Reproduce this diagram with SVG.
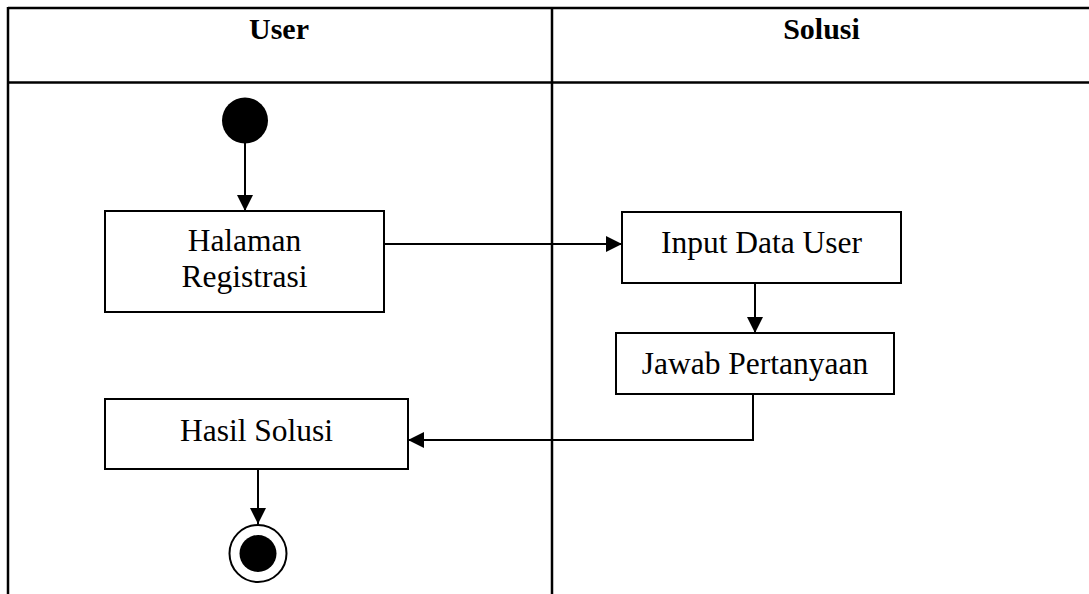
<svg xmlns="http://www.w3.org/2000/svg" width="1089" height="594" viewBox="0 0 1089 594">
<style>
.ln{stroke:#000;stroke-width:2;fill:none}
.box{fill:#fff;stroke:#000;stroke-width:2}
.t{font-family:"Liberation Serif","Times New Roman",serif;font-size:31.5px;fill:#000;text-anchor:middle}
.h{font-family:"Liberation Serif","Times New Roman",serif;font-size:30px;font-weight:bold;fill:#000;text-anchor:middle}
</style>
<defs>
<marker id="ah" viewBox="0 0 16 16" refX="16" refY="8" markerWidth="16" markerHeight="16" markerUnits="userSpaceOnUse" orient="auto">
<path d="M0,0 L16,8 L0,16 Z" fill="#000"/>
</marker>
</defs>
<rect width="1089" height="594" fill="#fff"/>
<g id="table">
<line class="ln" x1="8" y1="8" x2="1089" y2="8" style="stroke-width:2.5"/>
<line class="ln" x1="8" y1="82.5" x2="1089" y2="82.5" style="stroke-width:2.5"/>
<line class="ln" x1="8" y1="7" x2="8" y2="594" style="stroke-width:2.5"/>
<line class="ln" x1="552" y1="7" x2="552" y2="594" style="stroke-width:2.5"/>
<text class="h" x="279" y="39">User</text>
<text class="h" x="821.5" y="39">Solusi</text>
</g>
<g id="connectors">
<line class="ln" x1="245" y1="143" x2="245" y2="211" marker-end="url(#ah)"/>
<line class="ln" x1="384" y1="244" x2="622" y2="244" marker-end="url(#ah)"/>
<line class="ln" x1="755" y1="283" x2="755" y2="333" marker-end="url(#ah)"/>
<polyline class="ln" points="753,394 753,440 408,440" marker-end="url(#ah)"/>
<line class="ln" x1="258" y1="469" x2="258" y2="524" marker-end="url(#ah)"/>
</g>
<g id="start">
<circle cx="245" cy="120.5" r="23" fill="#000"/>
</g>
<g id="halaman">
<rect class="box" x="105" y="211" width="279" height="101"/>
<text class="t" x="244.5" y="251">Halaman</text>
<text class="t" x="244.5" y="287">Registrasi</text>
</g>
<g id="input">
<rect class="box" x="622" y="212" width="279" height="71"/>
<text class="t" x="761.5" y="253">Input Data User</text>
</g>
<g id="jawab">
<rect class="box" x="616" y="333" width="278" height="61"/>
<text class="t" x="755" y="374">Jawab Pertanyaan</text>
</g>
<g id="hasil">
<rect class="box" x="105" y="399" width="303" height="70"/>
<text class="t" x="256.5" y="441">Hasil Solusi</text>
</g>
<g id="end">
<circle cx="258" cy="553.5" r="28.5" fill="#fff" stroke="#000" stroke-width="2"/>
<circle cx="258" cy="553.5" r="18.5" fill="#000"/>
</g>
</svg>
